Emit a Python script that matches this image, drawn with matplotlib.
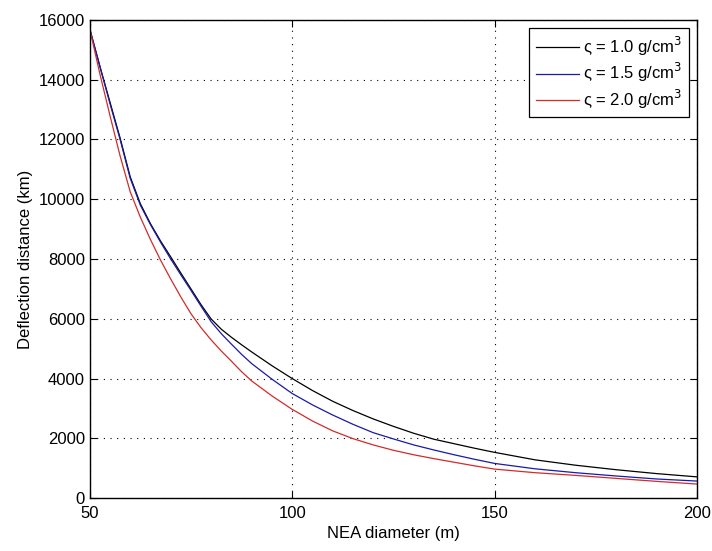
import numpy as np
import matplotlib.pyplot as plt

plt.rcParams['font.family'] = ['Liberation Sans', 'DejaVu Sans']

# NEA diameter (m)
diam = [50, 52.5, 55, 57.5, 60, 62.5, 65, 67.5, 70, 72.5, 75, 77.5, 80, 82.5, 85, 87.5,
        90, 95, 100, 105, 110, 115, 120, 125, 130, 135, 140, 145, 150, 160, 170, 180,
        190, 200]
# deflection distance (km) for each density
rho10 = [15700, 14450, 13250, 12050, 10750, 9850, 9180, 8600, 8070, 7530, 7000, 6470,
         5990, 5650, 5380, 5130, 4890, 4430, 4000, 3600, 3240, 2930, 2650, 2400, 2170,
         1970, 1820, 1670, 1530, 1280, 1100, 950, 820, 710]
rho15 = [15700, 14450, 13200, 12000, 10700, 9800, 9150, 8560, 8000, 7470, 6950, 6420,
         5900, 5500, 5150, 4810, 4500, 3980, 3500, 3120, 2780, 2470, 2190, 1980, 1780,
         1610, 1450, 1300, 1160, 980, 850, 740, 640, 570]
rho20 = [15700, 14200, 12800, 11450, 10250, 9400, 8650, 7960, 7330, 6730, 6170, 5700,
         5290, 4920, 4580, 4230, 3920, 3420, 2970, 2580, 2250, 1990, 1780, 1600, 1450,
         1320, 1200, 1080, 970, 850, 760, 660, 560, 470]
labels = ['ς = 1.0 g/cm$^3$', 'ς = 1.5 g/cm$^3$', 'ς = 2.0 g/cm$^3$']

fig = plt.figure(figsize=(7.12, 5.51), dpi=100)
ax = fig.add_axes([0.126, 0.096, 0.853, 0.868])

ax.plot(diam, rho10, color='k', lw=0.9, label=labels[0])
ax.plot(diam, rho15, color='#1a1aa8', lw=0.9, label=labels[1])
ax.plot(diam, rho20, color='#d42a2a', lw=0.9, label=labels[2])

ax.set_xlim(50, 200)
ax.set_ylim(0, 16000)
ax.set_xticks([50, 100, 150, 200])
ax.set_yticks(np.arange(0, 16001, 2000))
ax.grid(True, color='k', linestyle=(0, (1, 5)), linewidth=0.8)
ax.tick_params(direction='in', top=True, right=True, labelsize=12, length=5)
ax.tick_params(axis='x', pad=6)
for s in ax.spines.values():
    s.set_linewidth(1.0)

ax.set_xlabel('NEA diameter (m)', fontsize=12, labelpad=3)
ax.set_ylabel('Deflection distance (km)', fontsize=12)

leg = ax.legend(loc='upper right', fontsize=12, fancybox=False, framealpha=1,
                edgecolor='k', handlelength=2.6, handletextpad=0.2,
                borderaxespad=0.5, labelspacing=0.2, borderpad=0.4)
leg.get_frame().set_linewidth(0.9)

fig.savefig('out.png', dpi=100)
